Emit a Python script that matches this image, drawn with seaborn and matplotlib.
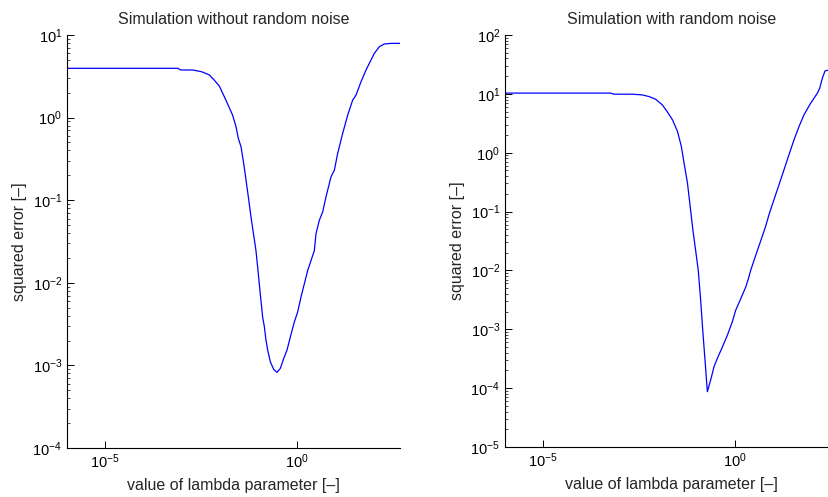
import matplotlib
matplotlib.use("Agg")
import matplotlib.pyplot as plt
import matplotlib.ticker as mticker
import seaborn as sns
import pandas as pd

# ---- data: left panel (without noise) ----
lam_clean = [1.07e-6, 7.7e-4, 9.4e-4, 1.9e-3, 3.2e-3, 5.2e-3, 6.9e-3, 9.4e-3, 0.0127, 0.0170,
             0.0209, 0.0257, 0.0295, 0.0347, 0.0407, 0.0468, 0.0537, 0.063, 0.0776, 0.085,
             0.094, 0.110, 0.127, 0.141, 0.155, 0.172, 0.201, 0.246, 0.301, 0.367,
             0.449, 0.548, 0.67, 0.851, 1.04, 1.27, 1.55, 1.90, 2.32, 2.83,
             3.13, 3.83, 4.68, 5.71, 7.71, 9.42, 11.5, 15.5, 21.0, 28.3,
             34.6, 46.8, 63.1, 85.1, 104, 141, 190, 283, 486]
err_clean = [3.95, 3.95, 3.77, 3.77, 3.60, 3.28, 2.85, 2.41, 1.79, 1.33,
             1.07, 0.774, 0.559, 0.442, 0.278, 0.175, 0.110, 0.0628, 0.0327, 0.0245,
             0.0155, 7.37e-3, 3.85e-3, 2.92e-3, 2.02e-3, 1.53e-3, 1.11e-3, 8.95e-4, 8.24e-4, 9.2e-4,
             1.21e-3, 1.53e-3, 2.21e-3, 3.36e-3, 4.43e-3, 6.72e-3, 9.7e-3, 0.0141, 0.0186, 0.0245,
             0.0394, 0.0573, 0.0723, 0.110, 0.192, 0.231, 0.368, 0.643, 1.07, 1.63,
             1.87, 2.72, 3.77, 4.98, 6.0, 7.23, 7.78, 7.92, 7.92]

# ---- data: right panel (with noise) ----
lam_noise = [1.05e-6, 5.7e-4, 6.9e-4, 2.1e-3, 3.8e-3, 5.7e-3, 8.5e-3, 0.0127, 0.0170, 0.0234,
             0.0316, 0.0398, 0.0468, 0.0575, 0.0692, 0.0794, 0.0933, 0.110, 0.127, 0.146,
             0.165, 0.190, 0.232, 0.283, 0.346, 0.468, 0.631, 0.851, 1.04, 1.41,
             1.90, 2.23, 2.56, 3.13, 3.83, 5.16, 6.31, 7.71, 10.4, 14.1,
             19.0, 25.6, 34.6, 46.8, 63.1, 94.2, 141, 162, 190, 223,
             283, 486]
err_noise = [10.3, 10.3, 9.87, 9.87, 9.6, 9.0, 8.1, 6.5, 5.0, 3.62,
             2.30, 1.28, 0.668, 0.306, 0.108, 0.0496, 0.0227, 0.01, 3.1e-3, 8.5e-4,
             3.0e-4, 8.7e-5, 1.38e-4, 2.31e-4, 3.2e-4, 5.0e-4, 7.9e-4, 1.34e-3, 2.1e-3, 3.3e-3,
             5.2e-3, 7.2e-3, 0.01, 0.0148, 0.0218, 0.0382, 0.0564, 0.089, 0.160, 0.287,
             0.515, 0.925, 1.66, 2.79, 4.41, 6.95, 10.3, 12.5, 18.5, 24.5,
             25.5, 25.5]

titles = ["Simulation without random noise", "Simulation with random noise"]
xlabel = "value of lambda parameter [\u2013]"
ylabel = "squared error [\u2013]"
x_ticks = [1e-5, 1e0]
ylims = [(1e-4, 1e1), (1e-5, 1e2)]

sns.set_theme(style="white")
plt.rcParams['font.family'] = ['Liberation Sans', 'DejaVu Sans']
plt.rcParams['mathtext.fontset'] = 'custom'
plt.rcParams['mathtext.rm'] = 'Liberation Sans'
plt.rcParams['mathtext.it'] = 'Liberation Sans:italic'

fig = plt.figure(figsize=(8.29, 4.97), dpi=100)
W, H = 829, 497
positions = [(67, 35, 333, 413), (505, 35, 333, 412)]

datasets = [(lam_clean, err_clean), (lam_noise, err_noise)]
for i, ((x0, y0, w, h), (lx, ey)) in enumerate(zip(positions, datasets)):
    ax = fig.add_axes([x0 / W, 1 - (y0 + h) / H, w / W, h / H])
    df = pd.DataFrame({"lam": lx, "err": ey})
    sns.lineplot(data=df, x="lam", y="err", ax=ax, color=(0, 0, 1), lw=0.9,
                 estimator=None, sort=False)
    ax.set_xscale("log")
    ax.set_yscale("log")
    ax.set_xlim(1.0e-6, 486)
    ax.set_ylim(*ylims[i])
    ax.xaxis.set_major_locator(mticker.FixedLocator(x_ticks))
    ax.xaxis.set_minor_locator(mticker.NullLocator())
    ax.yaxis.set_major_locator(mticker.LogLocator(base=10, numticks=20))
    ax.yaxis.set_minor_locator(mticker.LogLocator(base=10, subs=range(2, 10), numticks=20))
    ax.yaxis.set_minor_formatter(mticker.NullFormatter())
    for s in ["top", "right"]:
        ax.spines[s].set_visible(False)
    for s in ["left", "bottom"]:
        ax.spines[s].set_color("black")
        ax.spines[s].set_linewidth(0.8)
    ax.tick_params(which="major", direction="in", length=5, width=0.7, colors="black",
                   labelsize=10.5, left=True, bottom=True)
    ax.tick_params(which="minor", direction="in", length=2.5, width=0.5, colors="black",
                   left=True, bottom=False)
    ax.set_title(titles[i], fontsize=11.5, pad=8)
    ax.set_xlabel(xlabel, fontsize=11.5, labelpad=5)
    ax.set_ylabel(ylabel, fontsize=11.5, labelpad=4)
    ax.set_facecolor("white")

fig.savefig("out.png", dpi=100, facecolor="white")
